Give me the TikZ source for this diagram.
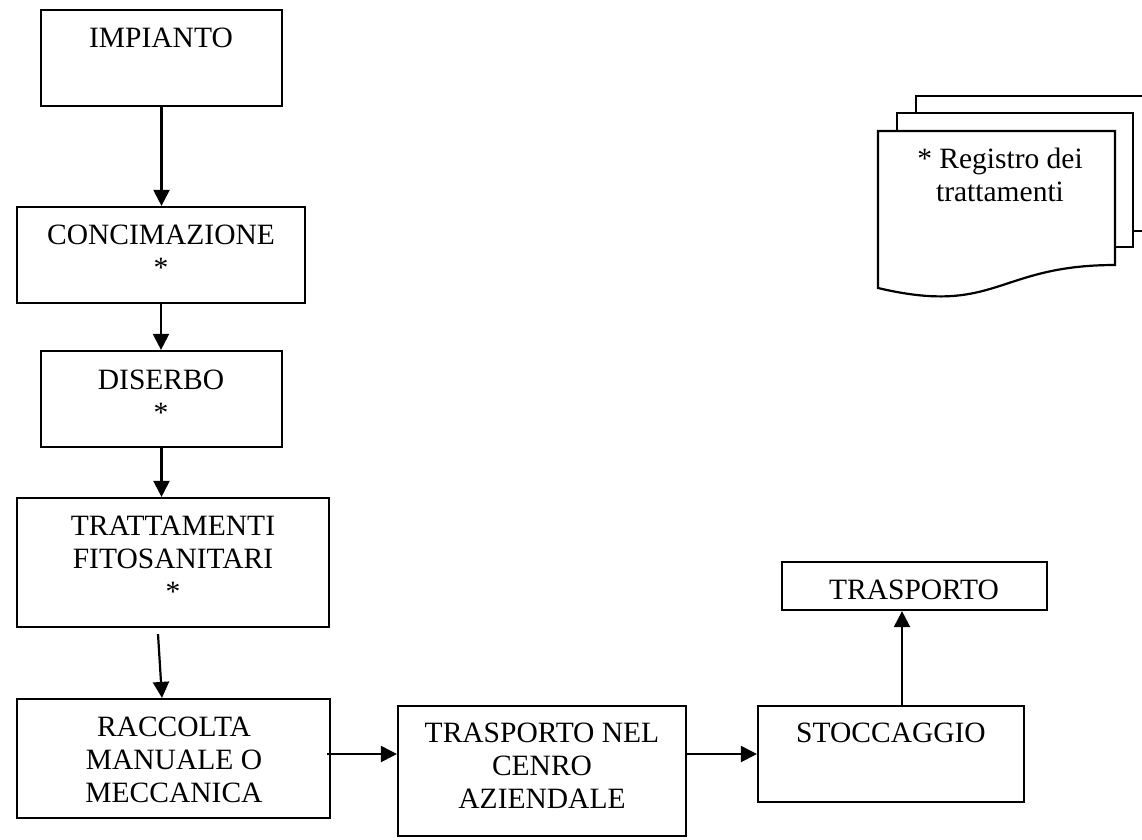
\documentclass[tikz,border=0pt]{standalone}
\usepackage{fontspec}
\setmainfont{Liberation Serif}
\usetikzlibrary{arrows.meta}
\begin{document}
\begin{tikzpicture}[x=1pt,y=-1pt,
  box/.style={draw, line width=2.2pt, fill=white, inner sep=0pt},
  lbl/.style={inner sep=0pt, align=center, anchor=north,
    font=\fontsize{29.5}{33}\selectfont},
  arr/.style={line width=2.2pt, -{Triangle[length=16pt,width=16pt]}},
  page/.style={draw, line width=2.2pt, fill=white}]
\useasboundingbox (0,0) rectangle (1142,839);
\clip (0,0) rectangle (1142,839);

% process boxes
\node[box, minimum width=241pt, minimum height=96pt]  (imp)   at (161.5,58)  {};
\node[box, minimum width=288pt, minimum height=96pt]  (conc)  at (161,255)   {};
\node[box, minimum width=241pt, minimum height=96pt]  (dis)   at (161.5,399) {};
\node[box, minimum width=312pt, minimum height=129pt] (tratt) at (173,562.5) {};
\node[box, minimum width=313pt, minimum height=119pt] (racc)  at (173.5,758.5) {};
\node[box, minimum width=288pt, minimum height=130pt] (cent)  at (542,771)   {};
\node[box, minimum width=266pt, minimum height=96pt]  (stocc) at (891,754)   {};
\node[box, minimum width=265pt, minimum height=48pt]  (trasp) at (914.5,586) {};

% box labels, set at the top of each box
\node[lbl] (imp-t)   at (161,28)   {IMPIANTO};
\node[lbl] (conc-t)  at (161,225)  {CONCIMAZIONE\\*};
\node[lbl] (dis-t)   at (161,370)  {DISERBO\\*};
\node[lbl] (tratt-t) at (173,516)  {TRATTAMENTI\\FITOSANITARI\\*};
\node[lbl] (racc-t)  at (174,717)  {RACCOLTA\\MANUALE O\\MECCANICA};
\node[lbl] (cent-t)  at (542,723)  {TRASPORTO NEL\\CENRO\\AZIENDALE};
\node[lbl] (stocc-t) at (891,723)  {STOCCAGGIO};
\node[lbl] (trasp-t) at (914,580)  {TRASPORTO};

% flow
\draw[arr] (imp.south) -- (imp.south |- conc.north);
\draw[arr] (conc.south) -- (conc.south |- dis.north);
\draw[arr] (dis.south) -- (dis.south |- tratt.north);
\draw[arr] ([shift={(-15pt,-6pt)}]tratt.south) -- ([xshift=-11.5pt]racc.north);
\draw[arr] ([shift={(-4pt,4.5pt)}]racc.east) coordinate (a1) -- (a1 -| cent.west);
\draw[arr] (cent.east |- stocc.west) -- (stocc.west);
\draw[arr] ([xshift=11pt]stocc.north) coordinate (a2) -- (a2 |- trasp.south);

% stacked documents: treatment register
\draw[page] (916,96) rectangle (1151,231);
\draw[page] (897,113) rectangle (1133,247);
\draw[page] (878,131) -- (1115,131) -- (1115,265)
  .. controls (996.5,265) and (996.5,316) .. (878,288) -- cycle;
\node[lbl] (reg) at (1000,147.5) {* Registro dei\\trattamenti};
\end{tikzpicture}
\end{document}
